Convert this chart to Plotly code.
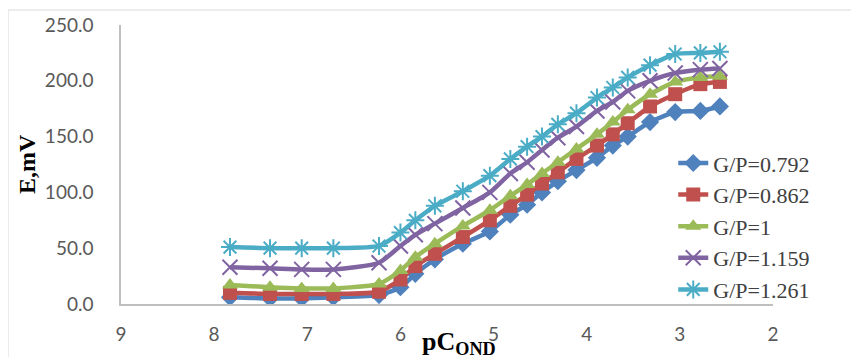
import plotly.graph_objects as go

pC = [7.83, 7.40, 7.06, 6.72, 6.23, 6.00, 5.84, 5.63, 5.33, 5.04, 4.82, 4.64, 4.48,
      4.31, 4.11, 3.89, 3.72, 3.56, 3.32, 3.05, 2.78, 2.57]

gp_0792 = [6, 5, 5, 6, 8, 15, 27, 40, 54, 65, 80, 89, 100, 110, 120, 131, 142, 150, 163, 172, 173, 177]
gp_0862 = [10, 9, 9, 9, 11, 22, 34, 45, 60, 75, 88, 98, 108, 118, 130, 142, 152, 162, 177, 188, 197, 199]
gp_1 = [17, 15, 14, 14, 18, 30, 42, 54, 70, 84, 97, 107, 117, 127, 139, 152, 163, 174, 188, 199, 203, 204]
gp_1159 = [33, 32, 31, 31, 37, 52, 62, 72, 86, 100, 117, 127, 138, 149, 159, 173, 181, 191, 200, 207, 210, 211]
gp_1261 = [51, 50, 50, 50, 52, 64, 75, 88, 101, 115, 130, 141, 150, 161, 171, 185, 194, 203, 214, 224, 225, 226]

names = ["G/P=0.792", "G/P=0.862", "G/P=1", "G/P=1.159", "G/P=1.261"]
series = [gp_0792, gp_0862, gp_1, gp_1159, gp_1261]
colors = ["#4F81BD", "#C0504D", "#9BBB59", "#8064A2", "#4BACC6"]
symbols = ["diamond", "square", "triangle-up", "x-thin", "asterisk"]

fig = go.Figure()
for name, ys, col, sym in zip(names, series, colors, symbols):
    thin = sym in ("x-thin", "asterisk")
    fig.add_trace(go.Scatter(
        x=pC, y=ys, name=name, mode="lines+markers",
        line=dict(color=col, width=4.5, shape="spline", smoothing=0.6),
        marker=dict(symbol=sym, size=15 if thin else 14, color=col,
                    line=dict(color=col, width=2 if thin else 0)),
    ))

fig.update_layout(
    width=851, height=349,
    margin=dict(l=113, r=86, t=17, b=53, autoexpand=False),
    paper_bgcolor="white", plot_bgcolor="white",
    showlegend=True,
    legend=dict(x=0.847, y=0.58, xanchor="left", yanchor="top",
                bgcolor="rgba(0,0,0,0)",
                font=dict(family="Liberation Serif", size=22, color="#404040"),
                tracegroupgap=0),
    xaxis=dict(range=[9, 2], dtick=1, showgrid=False, zeroline=False,
               showline=True, linecolor="#BFBFBF", linewidth=1.5,
               ticks="", ticklabelstandoff=12, automargin=False,
               tickfont=dict(family="Lato", size=19, color="#595959")),
    yaxis=dict(range=[0, 250], dtick=50, tickformat=".1f", showgrid=False,
               zeroline=False, showline=True, linecolor="#BFBFBF", linewidth=1.5,
               ticks="", ticklabelstandoff=22, automargin=False,
               tickfont=dict(family="Lato", size=19, color="#595959")),
    shapes=[dict(type="rect", xref="paper", yref="paper",
                 x0=(8 - 121) / 652, x1=(870 - 121) / 652,
                 y0=(304 - 370) / 279, y1=(304 - 10) / 279,
                 line=dict(color="#D9D9D9", width=1), fillcolor="rgba(0,0,0,0)",
                 layer="below")],
    annotations=[
        dict(text="<b>E,mV</b>", xref="paper", yref="paper",
             x=(27 - 121) / 652, y=(304 - 164) / 279, showarrow=False, textangle=-90,
             xanchor="center", yanchor="middle",
             font=dict(family="Liberation Serif", size=24, color="black")),
        dict(text="<b>pC<sub>OND</sub></b>", xref="paper", yref="paper",
             x=(459 - 121) / 652, y=(304 - 343) / 279, showarrow=False,
             xanchor="center", yanchor="middle",
             font=dict(family="Liberation Serif", size=26, color="black")),
    ],
)

fig.write_html("out.html")
